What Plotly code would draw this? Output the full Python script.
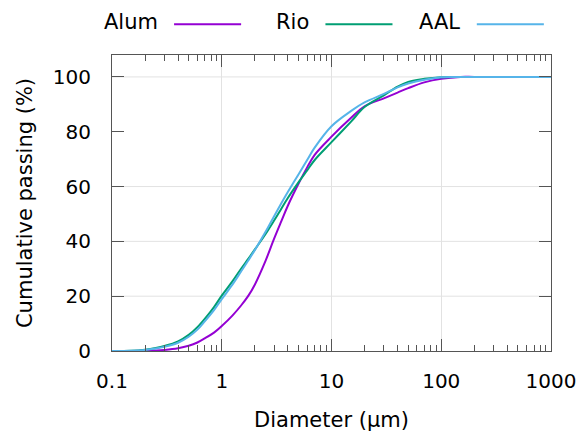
import plotly.graph_objects as go

# Particle size distribution (cumulative passing) for three materials
diameter_um = [0.1, 0.15, 0.2, 0.25, 0.3, 0.4, 0.5, 0.6, 0.7, 0.85, 1, 1.25, 1.5, 1.75,
               2, 2.5, 3, 3.5, 4, 5, 6, 7, 10, 15, 20, 30, 40, 50, 70, 100, 150,
               200, 500, 1000]
alum = [0, 0, 0.05, 0.2, 0.4, 1.0, 1.9, 3.1, 4.6, 6.7, 9.1, 12.9, 16.6, 20.2,
        24.2, 32.8, 41.0, 47.5, 53.0, 61.0, 67.0, 71.5, 78.2, 85.0, 89.3, 92.2, 94.3, 95.9, 98.0, 99.3, 100,
        100, 100, 100]
rio = [0, 0.1, 0.5, 1.1, 1.8, 3.5, 5.9, 8.7, 11.7, 16.0, 20.2, 25.4, 30.0, 33.7,
       37.0, 42.6, 47.6, 52.0, 55.8, 61.5, 65.9, 69.6, 76.2, 83.6, 89.0, 93.3, 96.5, 98.2, 99.3, 99.9, 100,
       100, 100, 100]
aal = [0, 0.1, 0.4, 0.9, 1.5, 3.0, 5.2, 7.8, 10.8, 14.9, 18.9, 24.2, 29.0, 33.1,
       36.8, 43.4, 49.2, 54.0, 58.0, 64.4, 69.7, 74.1, 82.0, 87.5, 90.7, 93.8, 96.2, 97.6, 99.0, 99.9, 100,
       100, 100, 100]

series_names = ["Alum", "Rio", "AAL"]
series_values = [alum, rio, aal]
series_colors = ["#9400D3", "#009E73", "#56B4E9"]

x_tick_values = [0.1, 1, 10, 100, 1000]
x_tick_labels = ["0.1", "1", "10", "100", "1000"]
y_tick_values = [0, 20, 40, 60, 80, 100]
y_grid_values = [20, 40, 60, 100]

FONT = "DejaVu Sans"
AXIS_COLOR = "#555555"
GRID_COLOR = "#e2e2e2"

fig = go.Figure()
for name, values, color in zip(series_names, series_values, series_colors):
    fig.add_trace(go.Scatter(
        x=diameter_um, y=values, name=name, mode="lines",
        line=dict(color=color, width=2, shape="spline", smoothing=1.0),
        showlegend=False,
    ))

# horizontal grid lines
for gy in y_grid_values:
    fig.add_hline(y=gy, line=dict(color=GRID_COLOR, width=1), layer="below")

# key: label followed by a line sample, laid out in one row above the plot
plot_left, plot_width = 112, 442
key_y = 1.104
for i, (name, color) in enumerate(zip(series_names, series_colors)):
    text_right = 160 + 152.4 * i
    fig.add_annotation(
        x=(text_right - plot_left) / plot_width, y=key_y + 0.006,
        xref="paper", yref="paper", xanchor="right", yanchor="middle",
        text=name, showarrow=False, font=dict(family=FONT, size=21, color="black"),
    )
    fig.add_shape(
        type="line", xref="paper", yref="paper",
        x0=(text_right + 14.5 - plot_left) / plot_width,
        x1=(text_right + 82 - plot_left) / plot_width,
        y0=key_y, y1=key_y, line=dict(color=color, width=2),
    )

fig.update_layout(
    width=588, height=442,
    margin=dict(l=112, r=34, t=55, b=91),
    paper_bgcolor="white", plot_bgcolor="white",
    font=dict(family=FONT, size=20, color="black"),
    xaxis=dict(
        type="log", range=[-1, 3],
        tickmode="array", tickvals=x_tick_values, ticktext=x_tick_labels,
        ticks="inside", ticklen=12, tickwidth=1, tickcolor=AXIS_COLOR,
        showline=True, linecolor=AXIS_COLOR, linewidth=1, mirror="ticks",
        showgrid=True, gridcolor=GRID_COLOR, gridwidth=1, zeroline=False,
        minor=dict(dtick="D1", ticks="inside", ticklen=6, tickwidth=1,
                   tickcolor=AXIS_COLOR, showgrid=False),
        ticklabelstandoff=12,
        title=dict(text="Diameter (µm)", font=dict(size=21), standoff=20),
    ),
    yaxis=dict(
        range=[0, 108],
        tickmode="array", tickvals=y_tick_values,
        ticks="inside", ticklen=12, tickwidth=1, tickcolor=AXIS_COLOR,
        showline=True, linecolor=AXIS_COLOR, linewidth=1, mirror="ticks",
        showgrid=False, zeroline=False,
        ticklabelstandoff=16,
        title=dict(text="Cumulative passing (%)", font=dict(size=21), standoff=14),
    ),
)

fig.write_html("out.html")
